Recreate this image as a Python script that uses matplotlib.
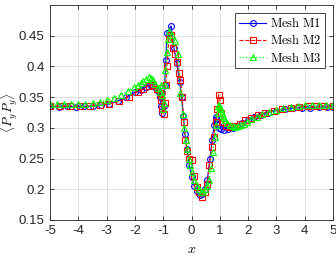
import matplotlib
matplotlib.use("Agg")
import matplotlib.pyplot as plt

# Mesh M1
x1 = [-5.0, -4.7, -4.4, -4.1, -3.8, -3.5, -3.2, -2.9, -2.6, -2.3, -2.0, -1.8, -1.6, -1.45,
      -1.3, -1.2, -1.12, -1.07, -1.03, -0.99, -0.95, -0.91, -0.87, -0.72, -0.62, -0.52,
      -0.42, -0.35, -0.29, -0.23, -0.16, -0.08, 0.0, 0.1, 0.2, 0.3, 0.38, 0.47, 0.56, 0.65,
      0.73, 0.8, 0.85, 0.88, 0.92, 0.97, 1.05, 1.15, 1.3, 1.45, 1.6, 1.8, 2.0, 2.2, 2.45,
      2.7, 3.0, 3.3, 3.6, 3.9, 4.2, 4.5, 4.8, 5.0]
y1 = [0.335, 0.334, 0.335, 0.334, 0.335, 0.335, 0.337, 0.339, 0.344, 0.350, 0.358, 0.362,
      0.367, 0.371, 0.367, 0.360, 0.350, 0.335, 0.325, 0.335, 0.370, 0.410, 0.455, 0.466,
      0.430, 0.405, 0.375, 0.350, 0.320, 0.290, 0.265, 0.240, 0.220, 0.205, 0.197, 0.190,
      0.192, 0.200, 0.215, 0.250, 0.280, 0.305, 0.318, 0.315, 0.305, 0.300, 0.298, 0.297,
      0.298, 0.300, 0.303, 0.308, 0.313, 0.317, 0.321, 0.325, 0.328, 0.330, 0.332, 0.333,
      0.333, 0.334, 0.334, 0.334]

# Mesh M2
x2 = [-5.0, -4.65, -4.3, -3.95, -3.6, -3.25, -2.9, -2.55, -2.2, -1.9, -1.7, -1.5, -1.35,
      -1.22, -1.12, -1.07, -1.03, -0.99, -0.95, -0.91, -0.87, -0.8, -0.73, -0.66, -0.58,
      -0.51, -0.45, -0.39, -0.33, -0.28, -0.22, -0.15, -0.08, 0.0, 0.08, 0.18, 0.28, 0.36,
      0.46, 0.55, 0.63, 0.71, 0.78, 0.85, 0.91, 0.96, 1.0, 1.05, 1.12, 1.22, 1.35, 1.5, 1.7,
      1.9, 2.1, 2.35, 2.6, 2.9, 3.2, 3.5, 3.8, 4.1, 4.4, 4.7, 5.0]
y2 = [0.336, 0.335, 0.336, 0.335, 0.336, 0.337, 0.339, 0.343, 0.351, 0.359, 0.363, 0.369,
      0.370, 0.364, 0.356, 0.345, 0.330, 0.322, 0.340, 0.370, 0.400, 0.445, 0.452, 0.430,
      0.420, 0.407, 0.390, 0.378, 0.350, 0.310, 0.280, 0.262, 0.250, 0.248, 0.222, 0.204,
      0.195, 0.187, 0.196, 0.208, 0.240, 0.268, 0.285, 0.310, 0.330, 0.354, 0.345, 0.325,
      0.310, 0.303, 0.301, 0.303, 0.307, 0.312, 0.316, 0.321, 0.325, 0.328, 0.331, 0.333,
      0.334, 0.335, 0.335, 0.336, 0.336]

# Mesh M3
x3 = [-5.0, -4.75, -4.5, -4.25, -4.0, -3.75, -3.5, -3.25, -3.0, -2.75, -2.5, -2.25, -2.05,
      -1.9, -1.8, -1.7, -1.6, -1.5, -1.42, -1.35, -1.28, -1.2, -1.13, -1.07, -1.03, -1.0,
      -0.97, -0.95, -0.92, -0.88, -0.83, -0.78, -0.7, -0.6, -0.48, -0.39, -0.31, -0.25,
      -0.2, -0.15, -0.1, -0.05, 0.02, 0.1, 0.18, 0.25, 0.32, 0.4, 0.48, 0.55, 0.62, 0.7,
      0.77, 0.83, 0.88, 0.92, 0.95, 0.98, 1.0, 1.03, 1.06, 1.1, 1.15, 1.2, 1.27, 1.35, 1.45,
      1.55, 1.65, 1.75, 1.85, 1.95, 2.1, 2.3, 2.5, 2.75, 3.0, 3.25, 3.5, 3.75, 4.0, 4.25,
      4.5, 4.75, 5.0]
y3 = [0.339, 0.339, 0.339, 0.339, 0.339, 0.339, 0.340, 0.342, 0.345, 0.349, 0.354, 0.360,
      0.366, 0.370, 0.373, 0.377, 0.380, 0.383, 0.382, 0.378, 0.372, 0.365, 0.358, 0.370,
      0.353, 0.330, 0.340, 0.370, 0.395, 0.424, 0.445, 0.458, 0.452, 0.442, 0.420, 0.357,
      0.322, 0.300, 0.280, 0.265, 0.250, 0.240, 0.228, 0.215, 0.205, 0.200, 0.196, 0.195,
      0.200, 0.205, 0.215, 0.235, 0.260, 0.285, 0.305, 0.325, 0.335, 0.338, 0.333, 0.330,
      0.325, 0.320, 0.316, 0.312, 0.308, 0.305, 0.303, 0.302, 0.303, 0.305, 0.307, 0.310,
      0.314, 0.318, 0.322, 0.326, 0.329, 0.332, 0.334, 0.336, 0.337, 0.337, 0.338, 0.338,
      0.338]

xticks = [-5, -4, -3, -2, -1, 0, 1, 2, 3, 4, 5]
yticks = [0.15, 0.2, 0.25, 0.3, 0.35, 0.4, 0.45]
ytick_labels = ["0.15", "0.2", "0.25", "0.3", "0.35", "0.4", "0.45"]

plt.rcParams["font.family"] = ["Liberation Sans", "DejaVu Sans"]
plt.rcParams["mathtext.fontset"] = "cm"

fig = plt.figure(figsize=(3.36, 2.56), dpi=100)
ax = fig.add_axes([0.149, 0.141, 0.842, 0.839])

ax.plot(x1, y1, "-", color="#0000ff", lw=0.8, marker="o", ms=4.2, mfc="none", mew=0.8,
        label=r"$\mathrm{Mesh\ M1}$")
ax.plot(x2, y2, "--", color="#ff0000", lw=0.8, marker="s", ms=4, mfc="none", mew=0.8,
        label=r"$\mathrm{Mesh\ M2}$")
ax.plot(x3, y3, ":", color="#00ff00", lw=0.9, marker="^", ms=4.2, mfc="none", mew=0.8,
        label=r"$\mathrm{Mesh\ M3}$")

ax.set_xlim(-5, 5)
ax.set_ylim(0.15, 0.5)
ax.set_xticks(xticks)
ax.set_xticklabels([str(t) for t in xticks])
ax.set_yticks(yticks)
ax.set_yticklabels(ytick_labels)
ax.tick_params(direction="in", length=3, width=0.6, labelsize=9.5, colors="#262626",
               top=True, right=True, pad=4)
ax.grid(True, color="#dcdcdc", lw=0.6)
ax.set_axisbelow(True)
for s in ax.spines.values():
    s.set_color("#262626")
    s.set_linewidth(0.6)

ax.set_xlabel(r"$x$", fontsize=10)
ax.xaxis.set_label_coords(0.5, -0.105)
ax.set_ylabel(r"$\langle P_y P_y \rangle$", fontsize=9.5)
ax.yaxis.set_label_coords(-0.106, 0.5)

leg = ax.legend(loc="upper right", fontsize=9, frameon=True, fancybox=False,
                edgecolor="#262626", framealpha=1, handlelength=2.2, borderpad=0.3,
                labelspacing=0.25, handletextpad=0.3, borderaxespad=0.6)
leg.get_frame().set_linewidth(0.6)

fig.savefig("out.png", dpi=100)
